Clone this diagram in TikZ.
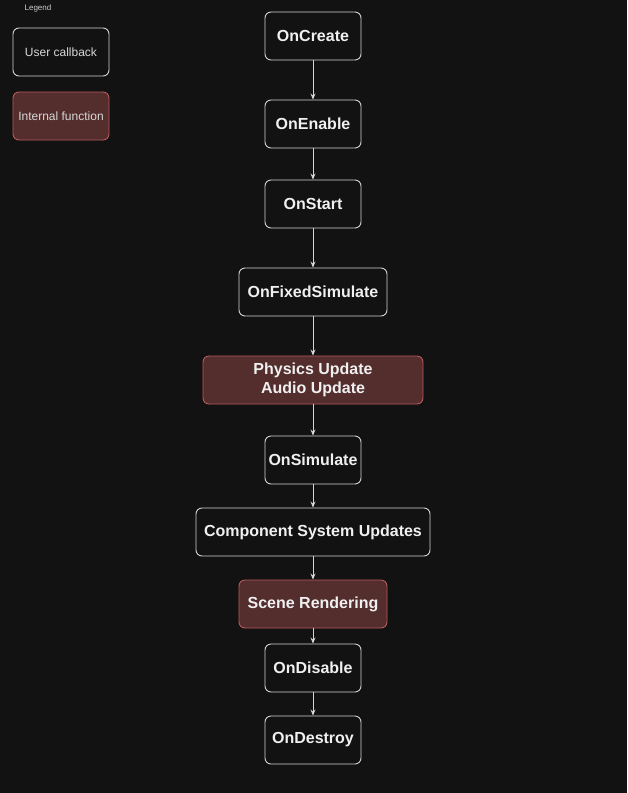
\documentclass[tikz,border=0pt]{standalone}
\usepackage{fontspec}
\setmainfont{Liberation Sans}
\usetikzlibrary{arrows.meta}
\definecolor{bg}{HTML}{121212}
\definecolor{edge}{HTML}{D4D4D4}
\definecolor{redfill}{HTML}{542D2D}
\definecolor{redline}{HTML}{B85A5A}
\definecolor{txt}{HTML}{F0F0F0}
\tikzset{
  box/.style={draw=edge, fill=bg, rounded corners=6pt, line width=0.9pt,
    minimum height=48pt, text=txt, font=\fontsize{16}{19}\selectfont\bfseries, align=center, inner sep=0pt},
  redbox/.style={box, draw=redline, fill=redfill},
  legbox/.style={draw=edge, fill=bg, rounded corners=6pt, line width=0.9pt,
    minimum width=96pt, minimum height=48pt, text=txt!90!black, font=\fontsize{12}{14}\selectfont, inner sep=0pt},
  legred/.style={legbox, draw=redline, fill=redfill},
  conn/.style={draw=edge, line width=0.8pt, -{Stealth[length=6pt,width=5pt]}}
}
\begin{document}
\begin{tikzpicture}[x=1pt,y=-1pt]
\fill[bg] (0,0) rectangle (627,793);
\useasboundingbox (0,0) rectangle (627,793);
\node[text=txt!85!black, font=\fontsize{8}{10}\selectfont] (leg) at (38,8) {Legend};
\node[legbox] (lu) at (61,52) {User callback};
\node[legred] (li) at (61,116) {Internal function};

\node[box, minimum width=96pt] (n1) at (313,36) {OnCreate};
\node[box, minimum width=96pt] (n2) at (313,124) {OnEnable};
\node[box, minimum width=96pt] (n3) at (313,204) {OnStart};
\node[box, minimum width=148pt] (n4) at (313,292) {OnFixedSimulate};
\node[redbox, minimum width=220pt] (n5) at (313,380) {Physics Update\\Audio Update};
\node[box, minimum width=96pt] (n6) at (313,460) {OnSimulate};
\node[box, minimum width=234pt] (n7) at (313,532) {Component System Updates};
\node[redbox, minimum width=148pt] (n8) at (313,604) {Scene Rendering};
\node[box, minimum width=96pt] (n9) at (313,668) {OnDisable};
\node[box, minimum width=96pt] (n10) at (313,740) {OnDestroy};

\foreach \a/\b in {n1/n2,n2/n3,n3/n4,n4/n5,n5/n6,n6/n7,n7/n8,n8/n9,n9/n10}
  \draw[conn] (\a) -- (\b);
\end{tikzpicture}
\end{document}
